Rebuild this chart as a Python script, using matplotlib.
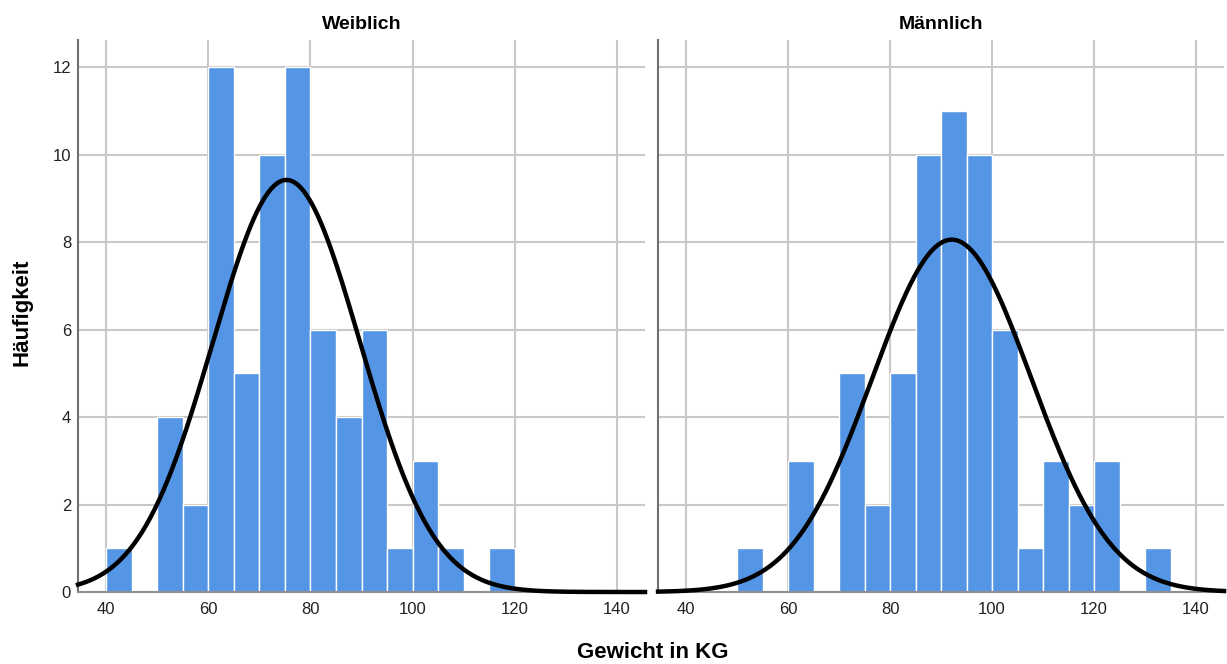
import numpy as np
import matplotlib
matplotlib.use("Agg")
import matplotlib.pyplot as plt

plt.rcParams['font.family'] = ['Liberation Sans', 'DejaVu Sans']

# histogram bins: 5 kg wide, left edges from 40 to 130
bin_edges = list(range(40, 135, 5))
counts_w = [1, 0, 4, 2, 12, 5, 10, 12, 6, 4, 6, 1, 3, 1, 0, 1, 0, 0, 0]
counts_m = [0, 0, 1, 0, 3, 0, 5, 2, 5, 10, 11, 10, 6, 1, 3, 2, 3, 0, 1]

# normal curve parameters per group (mean, sd, n)
mean_w, sd_w, n_w = 75.3, 14.4, 68
mean_m, sd_m, n_m = 92.1, 15.6, 63
bin_width = 5

panels = [("Weiblich", counts_w, mean_w, sd_w, n_w),
          ("Männlich", counts_m, mean_m, sd_m, n_m)]

bar_color = "#5595E5"
grid_color = "#c8c8c8"

fig = plt.figure(figsize=(12.27, 6.64), dpi=100)
axes = [fig.add_axes([0.0636, 0.1084, 0.4621, 0.8314]),
        fig.add_axes([0.5363, 0.1084, 0.4613, 0.8314])]

xs = np.linspace(34.5, 145.5, 400)
for i, (ax, (title, counts, mu, sd, n)) in enumerate(zip(axes, panels)):
    ax.set_axisbelow(True)
    ax.grid(True, color=grid_color, linewidth=1.5)
    ax.bar(bin_edges, counts, width=bin_width, align='edge',
           color=bar_color, edgecolor='white', linewidth=1.0, zorder=2)
    # fitted normal curve scaled to counts
    ys = n * bin_width / (sd * np.sqrt(2 * np.pi)) * np.exp(-0.5 * ((xs - mu) / sd) ** 2)
    ax.plot(xs, ys, color='black', linewidth=3.2, zorder=3, clip_on=False)

    ax.set_xlim(34.5, 145.5)
    ax.set_ylim(0, 12.62)
    ax.set_xticks([40, 60, 80, 100, 120, 140])
    ax.set_yticks([0, 2, 4, 6, 8, 10, 12])
    ax.tick_params(length=0, labelsize=12, colors='#222222')
    ax.tick_params(axis='x', pad=7)
    ax.tick_params(axis='y', pad=5)
    for s in ['top', 'right']:
        ax.spines[s].set_visible(False)
    ax.spines['left'].set_color('#707070')
    ax.spines['left'].set_linewidth(1.5)
    ax.spines['bottom'].set_color('#909090')
    ax.spines['bottom'].set_linewidth(1.5)
    ax.set_title(title, fontsize=14, fontweight='bold', pad=8)
    if i == 1:
        ax.tick_params(labelleft=False)

fig.text(0.532, 0.009, "Gewicht in KG", ha='center', va='baseline',
         fontsize=16, fontweight='bold')
fig.text(0.018, 0.53, "Häufigkeit", ha='center', va='center',
         rotation=90, fontsize=16, fontweight='bold')

fig.savefig("out.png", dpi=100)
